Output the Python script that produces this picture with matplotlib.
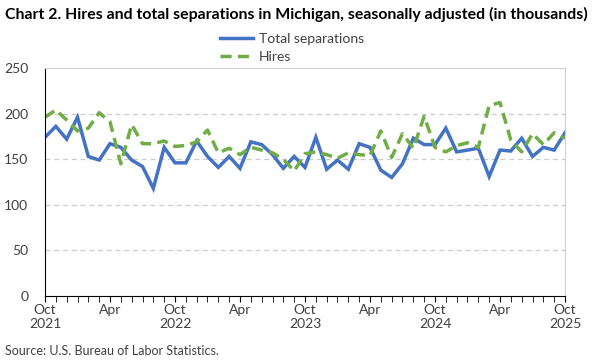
import numpy as np
import matplotlib.pyplot as plt
from matplotlib.ticker import MultipleLocator

# Monthly data, Oct 2021 - Oct 2025 (thousands)
separations = [174, 186, 172, 196, 153, 149, 167, 163, 149, 142, 118, 163, 146,
               146, 170, 153, 141, 153, 140, 169, 166, 155, 140, 153, 141,
               174, 139, 149, 139, 167, 163, 138, 130, 145, 173, 166, 166,
               184, 158, 160, 162, 131, 160, 159, 173, 153, 163, 160, 179]
hires = [196, 204, 193, 181, 184, 201, 191, 145, 188, 167, 167, 170, 164,
         165, 169, 182, 157, 162, 155, 163, 160, 157, 150, 137, 156,
         158, 155, 151, 157, 155, 154, 181, 152, 178, 162, 197, 163,
         158, 165, 168, 163, 209, 212, 171, 158, 178, 166, 179, 173]
tick_labels = ['Oct\n2021', 'Apr', 'Oct\n2022', 'Apr', 'Oct\n2023', 'Apr',
               'Oct\n2024', 'Apr', 'Oct\n2025']

plt.rcParams['font.family'] = ['Lato', 'DejaVu Sans']

fig = plt.figure(figsize=(6, 3.6), dpi=100)
ax = fig.add_axes([45/600, 1 - 296/360, 520/600, 228/360])

x = np.arange(len(separations))
ax.plot(x, separations, color='#4472C4', lw=2.5, label='Total separations',
        solid_joinstyle='miter')
ax.plot(x, hires, color='#70AD47', lw=2.5, ls=(0, (3.2, 1.8)), label='Hires')

ax.set_xlim(0, 48)
ax.set_ylim(0, 250)
ax.set_yticks(range(0, 251, 50))
ax.set_xticks(range(0, 49, 6))
ax.set_xticklabels(tick_labels)
ax.xaxis.set_minor_locator(MultipleLocator(1))
ax.tick_params(axis='x', which='both', direction='out', length=4, color='black',
               labelsize=10, labelcolor='#404040', pad=2)
ax.tick_params(axis='y', length=0, labelsize=10, labelcolor='#404040', pad=12)

for y in range(50, 250, 50):
    ax.axhline(y, color='#cccccc', lw=0.9, ls=(0, (4, 3)), zorder=0)

for s in ['top', 'right']:
    ax.spines[s].set_color('#d0d0d0')
ax.spines['left'].set_color('black')
ax.spines['bottom'].set_color('black')

fig.text(5/600, 1 - 14/360, 'Chart 2. Hires and total separations in Michigan, seasonally adjusted (in thousands)',
         fontsize=11.4, fontweight='bold', va='center', ha='left')
fig.legend(loc='center', bbox_to_anchor=(292/600, 1 - 48/360), ncol=1, frameon=False,
           fontsize=10, handlelength=2.4, handletextpad=0.4, labelspacing=0.45,
           labelcolor='#404040')
fig.text(5/600, 1 - 351/360, 'Source: U.S. Bureau of Labor Statistics.',
         fontsize=9, color='#404040', va='center', ha='left')

fig.savefig('out.png', dpi=100)
